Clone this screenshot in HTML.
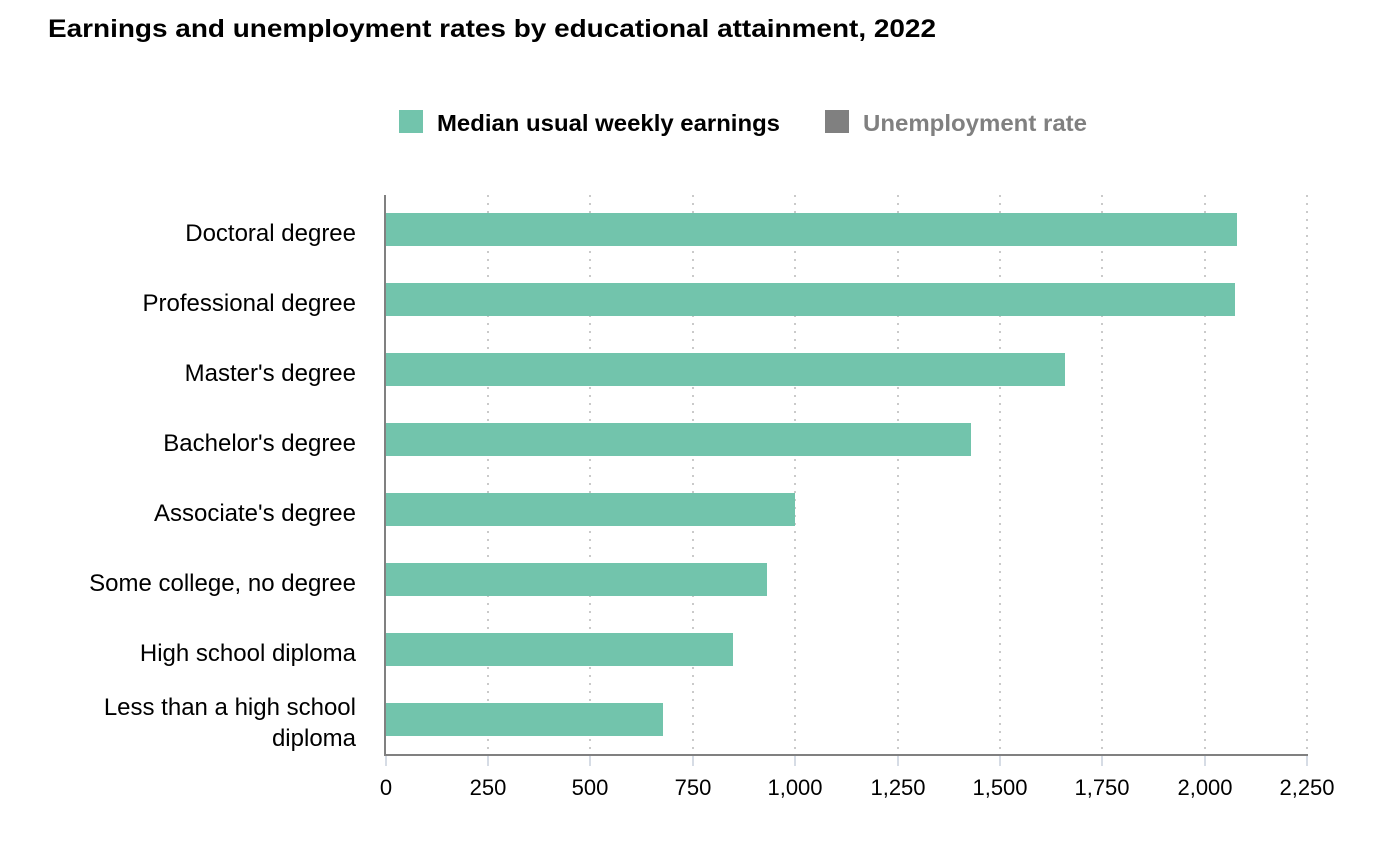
<!DOCTYPE html>
<html><head><meta charset="utf-8"><style>
body{margin:0;background:#fff;}
svg{display:block;font-family:"Liberation Sans",Arial,sans-serif;}
</style></head><body>
<svg width="1400" height="854" xmlns="http://www.w3.org/2000/svg">
<text x="48" y="37" font-size="25" font-weight="bold" fill="#000" textLength="888" lengthAdjust="spacingAndGlyphs">Earnings and unemployment rates by educational attainment, 2022</text>
<rect x="399" y="110" width="24" height="23" fill="#72c4ac"/>
<text x="437" y="131" font-size="23" font-weight="bold" fill="#000" textLength="343" lengthAdjust="spacingAndGlyphs">Median usual weekly earnings</text>
<rect x="825" y="110" width="24" height="23" fill="#808080"/>
<text x="863" y="131" font-size="23" font-weight="bold" fill="#808080" textLength="224" lengthAdjust="spacingAndGlyphs">Unemployment rate</text>
<g stroke="#b8b8b8" stroke-width="1.5" stroke-dasharray="2,6">
<line x1="488" y1="195" x2="488" y2="755"/>
<line x1="590" y1="195" x2="590" y2="755"/>
<line x1="693" y1="195" x2="693" y2="755"/>
<line x1="795" y1="195" x2="795" y2="755"/>
<line x1="898" y1="195" x2="898" y2="755"/>
<line x1="1000" y1="195" x2="1000" y2="755"/>
<line x1="1102" y1="195" x2="1102" y2="755"/>
<line x1="1205" y1="195" x2="1205" y2="755"/>
<line x1="1307" y1="195" x2="1307" y2="755"/>
</g>
<g fill="#72c4ac">
<rect x="386" y="213" width="851" height="33"/>
<rect x="386" y="283" width="849" height="33"/>
<rect x="386" y="353" width="679" height="33"/>
<rect x="386" y="423" width="585" height="33"/>
<rect x="386" y="493" width="409" height="33"/>
<rect x="386" y="563" width="381" height="33"/>
<rect x="386" y="633" width="347" height="33"/>
<rect x="386" y="703" width="277" height="33"/>
</g>
<line x1="385" y1="195" x2="385" y2="756" stroke="#808080" stroke-width="2"/>
<line x1="385" y1="755" x2="1308" y2="755" stroke="#808080" stroke-width="2"/>
<g stroke="#c8d0dc" stroke-width="1.5">
<line x1="386" y1="756" x2="386" y2="766"/>
<line x1="488" y1="756" x2="488" y2="766"/>
<line x1="590" y1="756" x2="590" y2="766"/>
<line x1="693" y1="756" x2="693" y2="766"/>
<line x1="795" y1="756" x2="795" y2="766"/>
<line x1="898" y1="756" x2="898" y2="766"/>
<line x1="1000" y1="756" x2="1000" y2="766"/>
<line x1="1102" y1="756" x2="1102" y2="766"/>
<line x1="1205" y1="756" x2="1205" y2="766"/>
<line x1="1307" y1="756" x2="1307" y2="766"/>
</g>
<g font-size="22" fill="#000" text-anchor="middle">
<text x="386" y="795">0</text>
<text x="488" y="795">250</text>
<text x="590" y="795">500</text>
<text x="693" y="795">750</text>
<text x="795" y="795">1,000</text>
<text x="898" y="795">1,250</text>
<text x="1000" y="795">1,500</text>
<text x="1102" y="795">1,750</text>
<text x="1205" y="795">2,000</text>
<text x="1307" y="795">2,250</text>
</g>
<g font-size="24" fill="#000" text-anchor="end">
<text x="356" y="241">Doctoral degree</text>
<text x="356" y="311">Professional degree</text>
<text x="356" y="381">Master's degree</text>
<text x="356" y="451">Bachelor's degree</text>
<text x="356" y="521">Associate's degree</text>
<text x="356" y="591">Some college, no degree</text>
<text x="356" y="661">High school diploma</text>
<text x="356" y="715">Less than a high school</text>
<text x="356" y="746">diploma</text>
</g>
</svg>
</body></html>
